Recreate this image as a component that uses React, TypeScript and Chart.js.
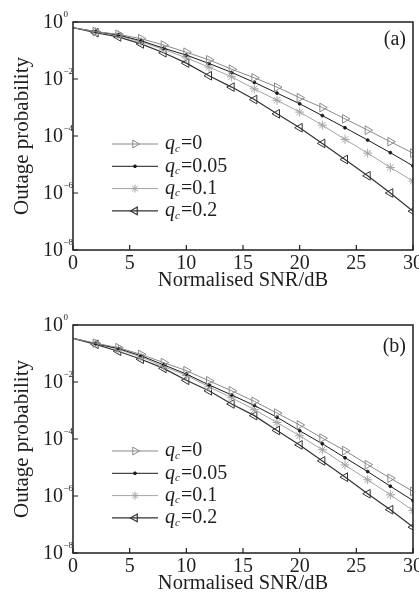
import React, { useEffect, useRef } from 'react';
import { Chart, registerables } from 'chart.js';
import { drawPoint } from 'chart.js/helpers';

Chart.register(...registerables);

// ---------- data ----------
const SNR_DB = [0, 2, 4, 6, 8, 10, 12, 14, 16, 18, 20, 22, 24, 26, 28, 30];
const QC_LABELS = ['0', '0.05', '0.1', '0.2'];
const X_TICKS = [0, 5, 10, 15, 20, 25, 30];
const Y_TICKS = [1, 1e-2, 1e-4, 1e-6, 1e-8];
const Y_TICK_EXPONENTS = ['0', '\u22122', '\u22124', '\u22126', '\u22128'];
const X_TITLE = 'Normalised SNR/dB';
const Y_TITLE = 'Outage probability';
const PANEL_LABELS = ['(a)', '(b)'];

// panel (a)
const A_QC0 = [0.63, 0.46, 0.37, 0.26, 0.155, 0.087, 0.047, 0.022, 0.011, 5.2e-3, 2.2e-3, 1.0e-3, 4.0e-4, 1.6e-4, 6.3e-5, 2.5e-5];
const A_QC005 = [0.63, 0.46, 0.35, 0.22, 0.12, 0.069, 0.035, 0.017, 7.6e-3, 3.2e-3, 1.35e-3, 5.2e-4, 1.95e-4, 7.2e-5, 2.6e-5, 8.9e-6];
const A_QC01 = [0.63, 0.46, 0.34, 0.2, 0.11, 0.055, 0.026, 0.012, 4.5e-3, 1.8e-3, 6.9e-4, 2.4e-4, 7.6e-5, 2.5e-5, 7.9e-6, 2.6e-6];
const A_QC02 = [0.63, 0.42, 0.3, 0.17, 0.083, 0.036, 0.013, 5.2e-3, 1.9e-3, 6.0e-4, 1.95e-4, 5.5e-5, 1.5e-5, 4.0e-6, 1.0e-6, 2.3e-7];

// panel (b)
const B_QC0 = [0.34, 0.23, 0.16, 0.093, 0.048, 0.025, 0.011, 4.9e-3, 2.1e-3, 8.1e-4, 3.1e-4, 1.07e-4, 3.9e-5, 1.26e-5, 4.2e-6, 1.45e-6];
const B_QC005 = [0.34, 0.22, 0.15, 0.083, 0.04, 0.019, 7.9e-3, 3.5e-3, 1.5e-3, 5.8e-4, 1.95e-4, 6.8e-5, 2.2e-5, 7.2e-6, 2.2e-6, 6.9e-7];
const B_QC01 = [0.34, 0.22, 0.14, 0.076, 0.035, 0.017, 6.8e-3, 2.8e-3, 1.07e-3, 3.8e-4, 1.3e-4, 4.2e-5, 1.23e-5, 3.7e-6, 1.1e-6, 3.1e-7];
const B_QC02 = [0.34, 0.21, 0.12, 0.063, 0.03, 0.0115, 4.9e-3, 1.7e-3, 6.6e-4, 2.0e-4, 6.2e-5, 1.7e-5, 4.6e-6, 1.2e-6, 3.3e-7, 8.1e-8];

// ---------- styles ----------
const FONT = '"Liberation Serif", "Times New Roman", serif';
const SERIES_STYLES = [
  { color: '#8a8a8a', pointStyle: 'triangle', rotation: 90, radius: 5, fill: 'rgba(0,0,0,0)', width: 1 },
  { color: '#1a1a1a', pointStyle: 'circle', rotation: 0, radius: 1.4, fill: '#1a1a1a', width: 1 },
  { color: '#a4a4a4', pointStyle: 'star', rotation: 0, radius: 4.5, fill: 'rgba(0,0,0,0)', width: 1 },
  { color: '#333333', pointStyle: 'triangle', rotation: -90, radius: 5, fill: 'rgba(0,0,0,0)', width: 1.2 },
];

type PanelCfg = {
  series: number[][];
  label: string;
  padding: { left: number; right: number; top: number; bottom: number };
  legendTop: number;
  labelTop: number;
};

const PANELS: PanelCfg[] = [
  {
    series: [A_QC0, A_QC005, A_QC01, A_QC02],
    label: PANEL_LABELS[0],
    padding: { left: 73, right: 6, top: 22, bottom: 48 },
    legendTop: 122,
    labelTop: 18,
  },
  {
    series: [B_QC0, B_QC005, B_QC01, B_QC02],
    label: PANEL_LABELS[1],
    padding: { left: 73, right: 5, top: 27, bottom: 43 },
    legendTop: 126,
    labelTop: 22,
  },
];

function makeDecorPlugin(panel: PanelCfg) {
  return {
    id: 'decor',
    afterDraw(chart: any) {
      const ctx: CanvasRenderingContext2D = chart.ctx;
      const a = chart.chartArea;
      const xs = chart.scales.x;
      const ys = chart.scales.y;
      ctx.save();
      // frame
      ctx.strokeStyle = '#1e1e1e';
      ctx.lineWidth = 1.5;
      ctx.strokeRect(a.left, a.top, a.right - a.left, a.bottom - a.top);
      // inward ticks
      ctx.lineWidth = 1.2;
      ctx.beginPath();
      for (const v of X_TICKS) {
        const px = xs.getPixelForValue(v);
        ctx.moveTo(px, a.bottom);
        ctx.lineTo(px, a.bottom - 5);
      }
      for (const v of Y_TICKS) {
        const py = ys.getPixelForValue(v);
        ctx.moveTo(a.left, py);
        ctx.lineTo(a.left + 5, py);
      }
      ctx.stroke();

      ctx.fillStyle = '#1e1e1e';
      // x tick labels
      ctx.font = `20px ${FONT}`;
      ctx.textAlign = 'center';
      ctx.textBaseline = 'middle';
      for (const v of X_TICKS) {
        ctx.fillText(String(v), xs.getPixelForValue(v), a.bottom + 14);
      }
      // y tick labels 10^n
      Y_TICKS.forEach((v, i) => {
        const py = ys.getPixelForValue(v);
        ctx.font = `20px ${FONT}`;
        ctx.textAlign = 'right';
        ctx.textBaseline = 'middle';
        ctx.fillText('10', a.left - 10, py + 1);
        ctx.font = `9px ${FONT}`;
        ctx.textAlign = 'left';
        ctx.fillText(Y_TICK_EXPONENTS[i], a.left - 9.5, py - 7);
      });
      // titles
      ctx.font = `20.5px ${FONT}`;
      ctx.textAlign = 'center';
      ctx.textBaseline = 'middle';
      ctx.fillText(X_TITLE, (a.left + a.right) / 2, a.bottom + 31);
      ctx.save();
      ctx.translate(22, (a.top + a.bottom) / 2);
      ctx.rotate(-Math.PI / 2);
      ctx.font = `21px ${FONT}`;
      ctx.fillText(Y_TITLE, 0, 0);
      ctx.restore();
      // panel label
      ctx.font = `20px ${FONT}`;
      ctx.textAlign = 'right';
      ctx.textBaseline = 'middle';
      ctx.fillText(panel.label, a.right - 7, a.top + panel.labelTop);

      // legend
      const rowH = 22.3;
      SERIES_STYLES.forEach((s, i) => {
        const y = a.top + panel.legendTop + i * rowH;
        const x0 = 112;
        const x1 = 158;
        ctx.strokeStyle = s.color;
        ctx.lineWidth = s.width;
        ctx.beginPath();
        ctx.moveTo(x0, y);
        ctx.lineTo(x1, y);
        ctx.stroke();
        ctx.fillStyle = s.fill;
        drawPoint(ctx, {
          pointStyle: s.pointStyle as any,
          rotation: s.rotation,
          radius: s.pointStyle === 'circle' ? s.radius : s.radius - 0.5,
          borderWidth: 1,
        } as any, (x0 + x1) / 2, y);
        // text: q_c=val
        ctx.fillStyle = '#1e1e1e';
        ctx.textAlign = 'left';
        ctx.textBaseline = 'middle';
        let tx = 165;
        ctx.font = `italic 20px ${FONT}`;
        ctx.fillText('q', tx, y);
        tx += ctx.measureText('q').width;
        ctx.font = `italic 11px ${FONT}`;
        ctx.fillText('c', tx, y + 5);
        tx += ctx.measureText('c').width + 1;
        ctx.font = `20px ${FONT}`;
        ctx.fillText('=' + QC_LABELS[i], tx, y);
      });
      ctx.restore();
    },
  };
}

function Panel({ panel }: { panel: PanelCfg }) {
  const ref = useRef<HTMLCanvasElement | null>(null);
  useEffect(() => {
    if (!ref.current) return;
    const datasets = panel.series.map((vals, i) => {
      const s = SERIES_STYLES[i];
      return {
        label: 'qc=' + QC_LABELS[i],
        data: SNR_DB.map((x, j) => ({ x, y: vals[j] })),
        borderColor: s.color,
        backgroundColor: s.fill,
        borderWidth: s.width,
        pointStyle: s.pointStyle,
        pointRotation: s.rotation,
        pointBorderColor: s.color,
        pointBackgroundColor: s.fill,
        pointBorderWidth: 1,
        pointRadius: (c: any) => (c.dataIndex === 0 ? 0 : s.radius),
        tension: 0,
        fill: false,
      };
    });
    const chart = new Chart(ref.current, {
      type: 'line',
      data: { datasets },
      options: {
        animation: false,
        responsive: false,
        maintainAspectRatio: false,
        layout: { padding: panel.padding },
        scales: {
          x: { type: 'linear', min: 0, max: 30, display: false },
          y: { type: 'logarithmic', min: 1e-8, max: 1, display: false },
        },
        plugins: { legend: { display: false }, tooltip: { enabled: false } },
      },
      plugins: [makeDecorPlugin(panel)],
    } as any);
    return () => chart.destroy();
  }, [panel]);
  return <canvas ref={ref} width={419} height={298} style={{ display: 'block' }} />;
}

export default function App() {
  return (
    <div style={{ position: 'absolute', left: 0, top: 0, width: 419, height: 596, background: '#fff' }}>
      {PANELS.map((p, i) => (
        <Panel key={i} panel={p} />
      ))}
    </div>
  );
}
